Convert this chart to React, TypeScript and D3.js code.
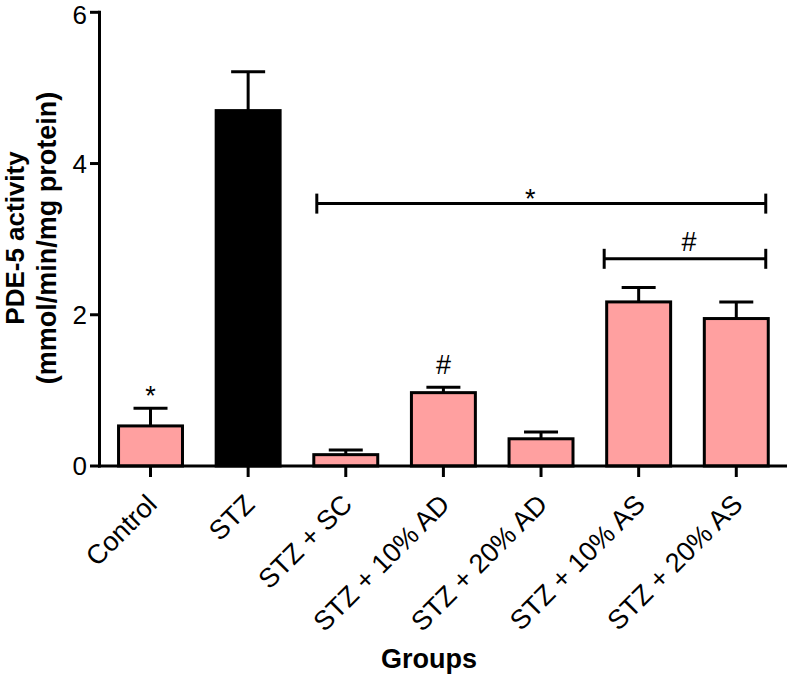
import React from "react";
import * as d3 from "d3";

const categories = [
  "Control",
  "STZ",
  "STZ + SC",
  "STZ + 10% AD",
  "STZ + 20% AD",
  "STZ + 10% AS",
  "STZ + 20% AS",
];
const means = [0.53, 4.7, 0.15, 0.97, 0.36, 2.17, 1.95];
const errors = [0.235, 0.515, 0.06, 0.07, 0.09, 0.19, 0.22];
const barColors = ["#ffa0a0", "#000000", "#ffa0a0", "#ffa0a0", "#ffa0a0", "#ffa0a0", "#ffa0a0"];
const yTicks = [0, 2, 4, 6];
const barMarks = [
  { group: "Control", label: "*" },
  { group: "STZ + 10% AD", label: "#" },
];
const brackets = [
  { from: "STZ + SC", to: "STZ + 20% AS", value: 3.47, label: "*" },
  { from: "STZ + 10% AS", to: "STZ + 20% AS", value: 2.74, label: "#" },
];

const W = 787;
const H = 674;
const FONT = "'Liberation Sans', Arial, Helvetica, sans-serif";

export default function App() {
  const y = d3.scaleLinear().domain([0, 6]).range([466, 12.3]);
  const x = d3
    .scaleBand<string>()
    .domain(categories)
    .range([101.7, 785.1])
    .paddingInner(0.345)
    .paddingOuter(0.1725);
  const bw = x.bandwidth();
  const cx = (c: string) => (x(c) as number) + bw / 2;
  const capHalf = 17;
  const sw = 3;
  const tickFont = 26;

  const data = categories.map((c, i) => ({ c, m: means[i], e: errors[i], col: barColors[i] }));

  return (
    <svg
      width={W}
      height={H}
      style={{ position: "absolute", left: 0, top: 0, background: "#fff" }}
      fontFamily={FONT}
    >
      {/* error bars */}
      {data.map((d) => (
        <g key={"e" + d.c} stroke="#000" strokeWidth={sw}>
          <line x1={cx(d.c)} x2={cx(d.c)} y1={y(d.m)} y2={y(d.m + d.e)} />
          <line x1={cx(d.c) - capHalf} x2={cx(d.c) + capHalf} y1={y(d.m + d.e)} y2={y(d.m + d.e)} />
        </g>
      ))}
      {/* bars */}
      {data.map((d) => (
        <rect
          key={"b" + d.c}
          x={x(d.c)}
          width={bw}
          y={y(d.m)}
          height={y(0) - y(d.m)}
          fill={d.col}
          stroke="#000"
          strokeWidth={sw}
        />
      ))}
      {/* marks above bars */}
      {barMarks.map((mk) => {
        const i = categories.indexOf(mk.group);
        const top = y(means[i] + errors[i]);
        return (
          <text
            key={"m" + mk.group}
            x={cx(mk.group)}
            y={top - (mk.label === "*" ? 3 : 13)}
            textAnchor="middle"
            fontSize={27}
            fill="#000"
          >
            {mk.label}
          </text>
        );
      })}
      {/* brackets */}
      {brackets.map((b, k) => {
        const x1 = k === 0 ? (x(b.from) as number) + 3 : (x(b.from) as number) - 2.5;
        const x2 = (x(b.to) as number) + bw - 2.5;
        const yy = y(b.value);
        const mid = (x1 + x2) / 2 + (k === 0 ? -11 : 4);
        return (
          <g key={"br" + k}>
            <line x1={x1} x2={x2} y1={yy} y2={yy} stroke="#000" strokeWidth={sw} />
            <line x1={x1} x2={x1} y1={yy - 10} y2={yy + 10} stroke="#000" strokeWidth={sw} />
            <line x1={x2} x2={x2} y1={yy - 10} y2={yy + 10} stroke="#000" strokeWidth={sw} />
            <text
              x={mid}
              y={b.label === "*" ? yy + 4 : yy - 8}
              textAnchor="middle"
              fontSize={27}
              fill="#000"
            >
              {b.label}
            </text>
          </g>
        );
      })}
      {/* y axis */}
      <line x1={99.5} x2={99.5} y1={y(6) - 1.5} y2={y(0) + 1.5} stroke="#000" strokeWidth={sw} />
      {yTicks.map((t) => (
        <g key={"yt" + t}>
          <line x1={90} x2={99.5} y1={y(t)} y2={y(t)} stroke="#000" strokeWidth={sw} />
          <text
            x={87}
            y={Math.max(y(t) + 0.36 * tickFont, 0.91 * tickFont + 0.5)}
            textAnchor="end"
            fontSize={tickFont}
            fill="#000"
          >
            {t}
          </text>
        </g>
      ))}
      {/* x axis */}
      <line x1={98} x2={787} y1={y(0)} y2={y(0)} stroke="#000" strokeWidth={sw} />
      {categories.map((c) => (
        <g key={"xt" + c}>
          <line x1={cx(c)} x2={cx(c)} y1={y(0)} y2={y(0) + 11} stroke="#000" strokeWidth={sw} />
          <text
            transform={`translate(${cx(c) + 8},${y(0) + 40}) rotate(-45)`}
            textAnchor="end"
            fontSize={27}
            fill="#000"
          >
            {c}
          </text>
        </g>
      ))}
      {/* axis titles */}
      <text
        transform="translate(23.5,238) rotate(-90)"
        textAnchor="middle"
        fontSize={26}
        fontWeight="bold"
        fill="#000"
      >
        PDE-5 activity
      </text>
      <text
        transform="translate(56,238) rotate(-90)"
        textAnchor="middle"
        fontSize={27}
        fontWeight="bold"
        fill="#000"
      >
        (mmol/min/mg protein)
      </text>
      <text x={429} y={668} textAnchor="middle" fontSize={27} fontWeight="bold" fill="#000">
        Groups
      </text>
    </svg>
  );
}
